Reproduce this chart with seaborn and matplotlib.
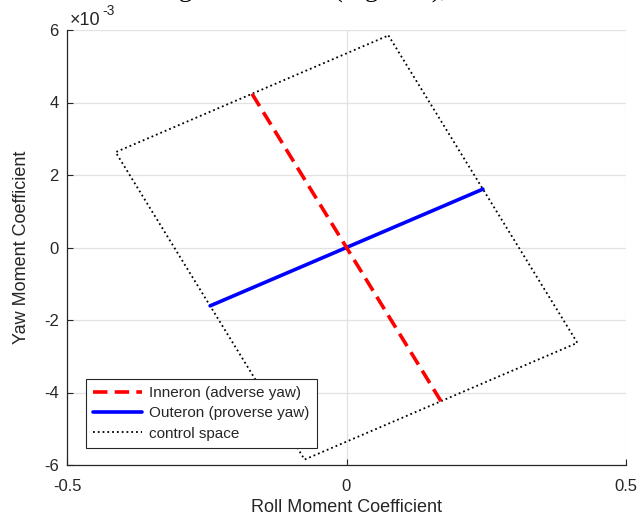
import matplotlib
matplotlib.use("Agg")
import matplotlib.pyplot as plt
import seaborn as sns
import pandas as pd

# ---- data ----
inner_x = [-0.169, 0.169]
inner_y = [4.24e-3, -4.24e-3]
outer_x = [-0.244, 0.244]
outer_y = [-1.61e-3, 1.61e-3]
space_x = [0.075, 0.413, -0.075, -0.413, 0.075]
space_y = [5.85e-3, -2.63e-3, -5.85e-3, 2.63e-3, 5.85e-3]

x_ticks = [-0.5, 0, 0.5]
x_tick_labels = ["-0.5", "0", "0.5"]
y_ticks = [-6e-3, -4e-3, -2e-3, 0, 2e-3, 4e-3, 6e-3]
y_tick_labels = ["-6", "-4", "-2", "0", "2", "4", "6"]

labels = ["Inneron (adverse yaw)", "Outeron (proverse yaw)", "control space"]
x_label = "Roll Moment Coefficient"
y_label = "Yaw Moment Coefficient"
exp_base = "\u00d710"
exp_power = "-3"
caption = "Achievable Rolling Coefficients (Figure 1),"

sns.set_style("white")
plt.rcParams["font.family"] = ["Liberation Sans", "DejaVu Sans"]
plt.rcParams["axes.unicode_minus"] = False

TXT = "#262626"

fig = plt.figure(figsize=(6.39, 5.20), dpi=100)
ax = fig.add_axes([67 / 639, 1 - 465 / 520, 559 / 639, 435 / 520])

df_space = pd.DataFrame({"x": space_x, "y": space_y})
df_in = pd.DataFrame({"x": inner_x, "y": inner_y})
df_out = pd.DataFrame({"x": outer_x, "y": outer_y})

sns.lineplot(data=df_space, x="x", y="y", sort=False, estimator=None, ax=ax,
             color="black", linestyle=":", linewidth=1.3, label=labels[2])
sns.lineplot(data=df_out, x="x", y="y", sort=False, estimator=None, ax=ax,
             color="#0000ff", linewidth=2.6, label=labels[1])
sns.lineplot(data=df_in, x="x", y="y", sort=False, estimator=None, ax=ax,
             color="#ff0000", linestyle=(0, (4, 2)), linewidth=2.6, label=labels[0])

ax.set_xlim(-0.5, 0.5)
ax.set_ylim(-6e-3, 6e-3)
ax.set_xticks(x_ticks)
ax.set_xticklabels(x_tick_labels)
ax.set_yticks(y_ticks)
ax.set_yticklabels(y_tick_labels)

ax.grid(True, color="#e2e2e2", linewidth=0.9)
ax.set_axisbelow(True)
for s in ["top", "right"]:
    ax.spines[s].set_visible(False)
for s in ["left", "bottom"]:
    ax.spines[s].set_color(TXT)
    ax.spines[s].set_linewidth(0.9)
ax.tick_params(axis="both", direction="in", length=4, width=0.8, colors=TXT,
               labelsize=12, left=True, bottom=True)
ax.tick_params(axis="x", pad=10)
ax.tick_params(axis="y", pad=6)

ax.set_xlabel(x_label, fontsize=13, color=TXT, labelpad=4)
ax.set_ylabel(y_label, fontsize=13, color=TXT, labelpad=10)

fig.text(70 / 639, 1 - 25 / 520, exp_base, fontsize=13, color=TXT,
         ha="left", va="baseline")
fig.text(102 / 639, 1 - 15 / 520, exp_power, fontsize=10, color=TXT,
         ha="left", va="baseline")

h, l = ax.get_legend_handles_labels()
order = [l.index(lab) for lab in labels]
leg = ax.legend([h[i] for i in order], [l[i] for i in order],
                loc="lower left", bbox_to_anchor=(0.034, 0.040),
                fontsize=11, frameon=True, fancybox=False, framealpha=1,
                edgecolor=TXT, handlelength=3.2, borderpad=0.45,
                labelspacing=0.42, handletextpad=0.5, borderaxespad=0)
leg.get_frame().set_linewidth(0.8)

fig.text(447 / 639, 1 + 2 / 520, caption, ha="right", va="baseline",
         family="Liberation Serif", fontsize=19, color="black")

fig.savefig("out.png", dpi=100, facecolor="white")
